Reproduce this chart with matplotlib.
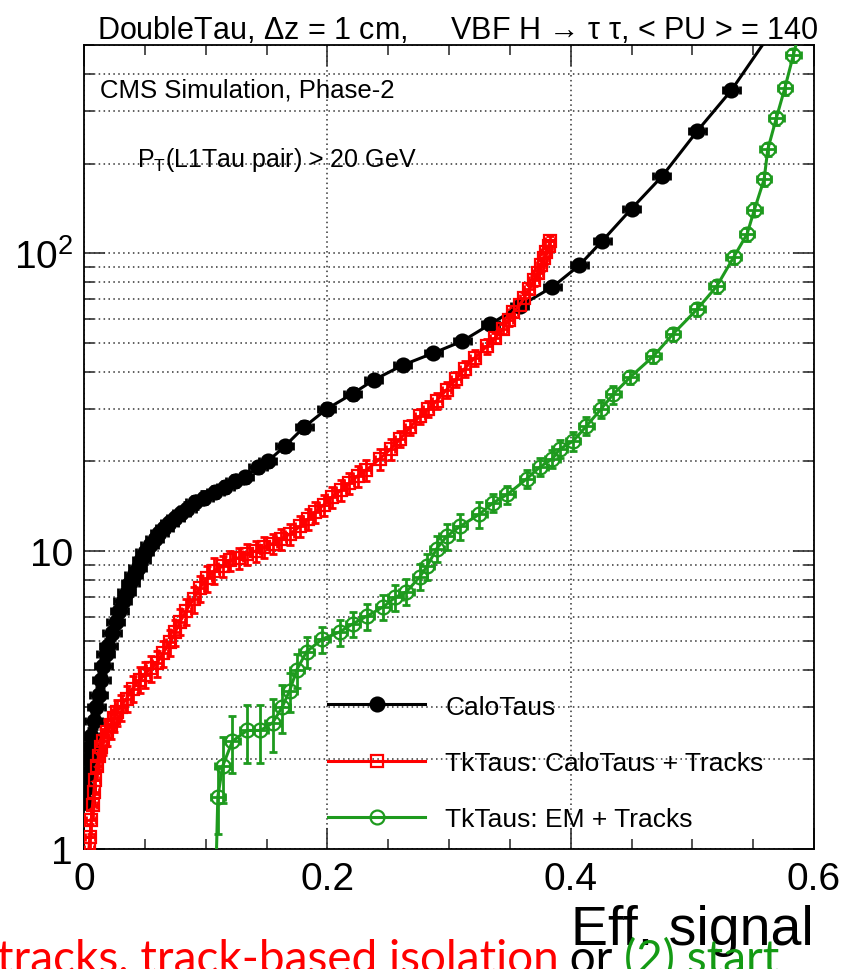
import matplotlib
matplotlib.use("Agg")
import numpy as np
import matplotlib.pyplot as plt
from matplotlib.ticker import FixedLocator, MultipleLocator, LogLocator, NullFormatter

# ---- data ----
black_x = [0.001, 0.002, 0.003, 0.004, 0.005, 0.006, 0.008, 0.010, 0.012, 0.014,
           0.016, 0.018, 0.020, 0.023, 0.026, 0.029, 0.032, 0.035, 0.038, 0.041,
           0.044, 0.047, 0.050, 0.054, 0.058, 0.062, 0.066, 0.070, 0.075, 0.080,
           0.085, 0.091, 0.099, 0.108, 0.116, 0.124, 0.132, 0.143, 0.151, 0.165,
           0.181, 0.1995, 0.221, 0.238, 0.262, 0.287, 0.311, 0.334, 0.358, 0.385,
           0.407, 0.426, 0.450, 0.475, 0.504, 0.532, 0.571]
black_y = [1.45, 1.6, 1.8, 2.0, 2.2, 2.4, 2.7, 3.0, 3.3, 3.7,
           4.1, 4.5, 4.8, 5.3, 5.8, 6.3, 6.8, 7.3, 7.8, 8.3,
           8.8, 9.3, 9.9, 10.5, 11.0, 11.5, 12.0, 12.4, 12.9, 13.4,
           13.9, 14.6, 15.1, 15.8, 16.4, 17.2, 17.7, 19.1, 20.0, 22.5,
           26.1, 30.0, 33.8, 37.5, 42.1, 46.2, 50.7, 57.8, 66.4, 77.0,
           91.0, 110, 141, 181, 257, 352, 600]
black_rel = [0.06] * 13 + [0.05] * 20 + [0.045] * 10 + [0.035] * 14

red_x = [0.004, 0.005, 0.006, 0.007, 0.008, 0.009, 0.0105, 0.012, 0.014, 0.016,
         0.019, 0.022, 0.025, 0.027, 0.030, 0.035, 0.040, 0.046, 0.050, 0.055,
         0.060, 0.065, 0.071, 0.075, 0.079, 0.084, 0.090, 0.095, 0.101, 0.107,
         0.114, 0.120, 0.127, 0.134, 0.141, 0.148, 0.155, 0.162, 0.169, 0.1775,
         0.184, 0.190, 0.197, 0.204, 0.211, 0.218, 0.225, 0.232, 0.243, 0.252,
         0.260, 0.268, 0.276, 0.283, 0.290, 0.298, 0.306, 0.313, 0.321, 0.331,
         0.338, 0.344, 0.349, 0.353, 0.358, 0.362, 0.366, 0.370, 0.373, 0.376,
         0.378, 0.380, 0.382, 0.383]
red_y = [1.0, 1.1, 1.25, 1.4, 1.55, 1.7, 1.9, 2.05, 2.2, 2.3,
         2.47, 2.6, 2.75, 2.88, 3.0, 3.2, 3.45, 3.7, 3.85, 4.05,
         4.2, 4.55, 4.95, 5.35, 5.8, 6.3, 6.9, 7.5, 8.1, 8.6,
         8.9, 9.3, 9.5, 9.8, 10.0, 10.3, 10.6, 11.0, 11.4, 12.1,
         12.8, 13.5, 14.3, 15.2, 16.0, 16.9, 17.9, 18.7, 20.4, 22.0,
         23.8, 26.0, 28.4, 30.0, 32.0, 34.8, 37.8, 41.0, 44.5, 48.7,
         52.0, 55.6, 59.5, 63.4, 67.0, 71.0, 76.0, 81.0, 86.0, 91.0,
         96.0, 101, 106, 110]
red_rel = [0.10] * 30 + [0.08] * 20 + [0.06] * 10 + [0.04] * 14

green_x = [0.108, 0.110, 0.114, 0.122, 0.134, 0.145, 0.155, 0.163, 0.169, 0.175,
           0.183, 0.196, 0.210, 0.221, 0.2325, 0.246, 0.256, 0.265, 0.276, 0.282,
           0.290, 0.298, 0.309, 0.325, 0.336, 0.348, 0.364, 0.375, 0.385, 0.391,
           0.402, 0.413, 0.425, 0.435, 0.449, 0.468, 0.484, 0.504, 0.520, 0.534,
           0.545, 0.551, 0.559, 0.562, 0.569, 0.576, 0.583, 0.591]
green_y = [0.7, 1.5, 1.9, 2.3, 2.5, 2.5, 2.65, 3.0, 3.4, 4.0,
           4.6, 5.07, 5.35, 5.7, 6.05, 6.5, 7.0, 7.3, 8.2, 8.9,
           10.2, 11.2, 12.1, 13.3, 14.5, 15.5, 17.5, 19.2, 20.4, 22.0,
           23.4, 26.3, 30.0, 33.6, 38.4, 45.1, 53.5, 64.9, 77.4, 97,
           116, 140, 177, 223, 284, 358, 462, 620]
green_rel = [0.0, 0.25, 0.25, 0.22, 0.22, 0.22, 0.20, 0.18, 0.15, 0.13,
             0.12] + [0.10] * 13 + [0.07] * 10 + [0.05] * 14

x_ticks = [0, 0.2, 0.4, 0.6]
x_ticklabels = ["0", "0.2", "0.4", "0.6"]
y_ticks = [1, 10, 100]
y_ticklabels = ["1", "10", "$10^{2}$"]

series = [
    ("CaloTaus", black_x, black_y, black_rel, "#000000", "o", "full", 0.007),
    ("TkTaus: CaloTaus + Tracks", red_x, red_y, red_rel, "#ff0000", "s", "none", 0.004),
    ("TkTaus: EM + Tracks", green_x, green_y, green_rel, "#1e9a1e", "o", "none", 0.006),
]

narrow = ["Liberation Sans Narrow", "Liberation Sans", "DejaVu Sans"]
plt.rcParams["font.family"] = narrow
plt.rcParams["mathtext.fontset"] = "custom"
plt.rcParams["mathtext.rm"] = "Liberation Sans"
plt.rcParams["mathtext.it"] = "Liberation Sans"

fig = plt.figure(figsize=(8.46, 9.70), dpi=100)
ax = fig.add_axes([84 / 846, 1 - 850 / 970, 730 / 846, 804 / 970])

handles = []
for name, xs, ys, rel, col, mk, fill, xe in series:
    xs = np.array(xs)
    ys = np.array(ys)
    yerr = ys * np.array(rel)
    ax.errorbar(xs, ys, xerr=xe, yerr=yerr, fmt="none", ecolor=col,
                elinewidth=2, capsize=3, capthick=2, zorder=3)
    mfc = col if fill == "full" else "none"
    ms = 9 if mk == "s" else 10
    ln, = ax.plot(xs, ys, color=col, lw=2.2, marker=mk, ms=ms, mfc=mfc,
                  mec=col, mew=1.6, zorder=4, label=name)
    handles.append(ln)

ax.set_xlim(0, 0.6)
ax.set_yscale("log")
ax.set_ylim(1, 500)

ax.xaxis.set_major_locator(FixedLocator(x_ticks))
ax.set_xticklabels(x_ticklabels)
ax.xaxis.set_minor_locator(MultipleLocator(0.05))
ax.yaxis.set_major_locator(FixedLocator(y_ticks))
ax.set_yticklabels(y_ticklabels)
ax.yaxis.set_minor_locator(LogLocator(base=10, subs=np.arange(2, 10)))
ax.yaxis.set_minor_formatter(NullFormatter())

ax.tick_params(which="both", direction="in", top=True, right=True,
               labelsize=28, width=1.2, color="#333333")
ax.tick_params(which="major", length=15)
ax.tick_params(which="minor", length=7)
ax.tick_params(axis="x", pad=9)
ax.tick_params(axis="y", pad=8)

ax.yaxis.grid(True, which="both", linestyle=(0, (1, 2.2)), color="#333333", lw=1.1)
ax.xaxis.grid(True, which="major", linestyle=(0, (1, 2.2)), color="#333333", lw=1.1)
ax.set_axisbelow(True)
for sp in ax.spines.values():
    sp.set_linewidth(1.3)

ax.set_xlabel("Eff. signal", loc="right", fontsize=40, labelpad=5)

fig.text(97 / 846, 1 - 39 / 970,
         "DoubleTau, $\\Delta$z = 1 cm,     VBF H \u2192 \u03c4 \u03c4, < PU > = 140",
         fontsize=22, ha="left", va="baseline")
ax.text(0.022, 0.945, "CMS Simulation, Phase-2", transform=ax.transAxes,
        fontsize=18.5, ha="left", va="center")
ax.text(0.073, 0.858, "P$_\\mathrm{T}$(L1Tau pair) > 20 GeV", transform=ax.transAxes,
        fontsize=18, ha="left", va="center")

leg = ax.legend(handles=handles, loc="upper left", bbox_to_anchor=(0.334, 0.192),
                frameon=False, fontsize=19, handlelength=3.7, handletextpad=0.75,
                labelspacing=1.22, borderpad=0, borderaxespad=0, numpoints=1)

# cut-off caption line at the bottom of the slide
cap_font = ["Lato", "DejaVu Sans"]
t1 = fig.text(-0.004, -0.003, "tracks, track-based isolation", color="#ff0000",
              fontsize=33, family=cap_font, va="baseline", ha="left")
t2 = fig.text(0.0, 0.0, " or ", color="#000000", fontsize=33,
              family=cap_font, va="baseline", ha="left")
t3 = fig.text(0.0, 0.0, "(2) start", color="#149a14", fontsize=33,
              family=cap_font, va="baseline", ha="left")
fig.canvas.draw()
r = fig.canvas.get_renderer()
bb1 = t1.get_window_extent(r)
t2.set_position((bb1.x1 / fig.bbox.width, -0.003))
bb2 = t2.get_window_extent(r)
t3.set_position((bb2.x1 / fig.bbox.width, -0.003))

fig.savefig("out.png", dpi=100)
